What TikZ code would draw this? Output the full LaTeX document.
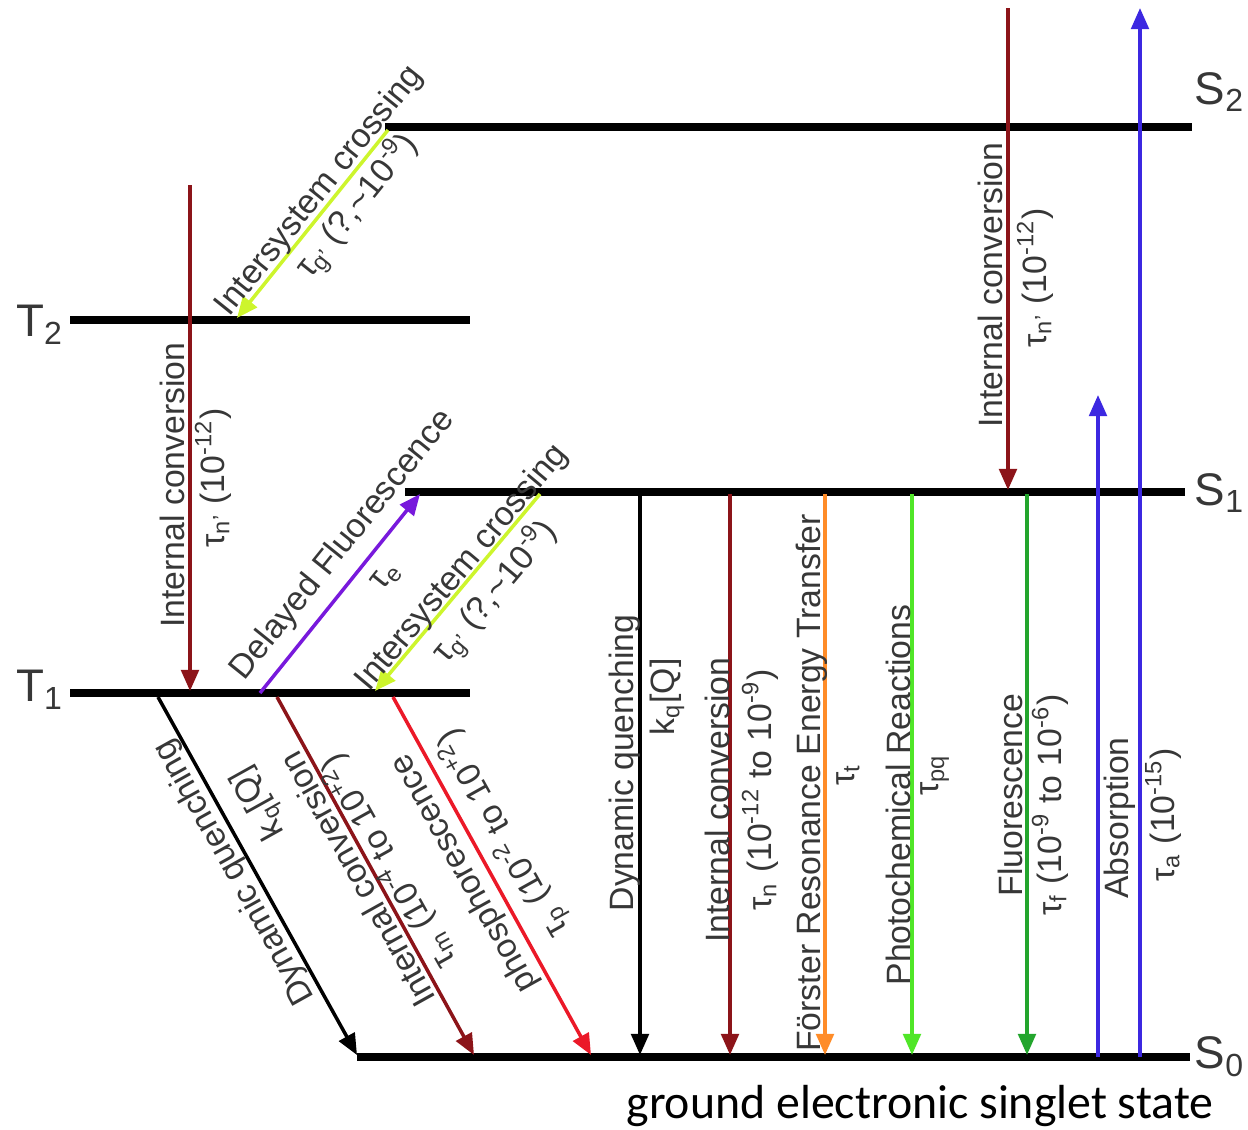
\documentclass[tikz,border=0pt]{standalone}
\usepackage{fontspec}
\setmainfont{Liberation Sans}
\newfontfamily\captionfont{Carlito}
\usetikzlibrary{arrows.meta}
\definecolor{TextGray}{RGB}{55,55,55}
\definecolor{ICRed}{RGB}{140,20,25}
\definecolor{ISCYellow}{RGB}{205,245,45}
\definecolor{DFViolet}{RGB}{120,25,220}
\definecolor{PhosRed}{RGB}{235,25,40}
\definecolor{FretOrange}{RGB}{255,140,40}
\definecolor{PhotoGreen}{RGB}{80,230,40}
\definecolor{FluoGreen}{RGB}{35,165,45}
\definecolor{AbsBlue}{RGB}{60,40,225}

\begin{document}
\begin{tikzpicture}[
    x=0.01cm, y=-0.01cm,
    level/.style={line width=2pt, black},
    trans/.style={-{Triangle[length=6pt,width=5pt]}, line width=1pt},
    lab/.style={text=TextGray, font=\fontsize{9.6}{11}\selectfont, inner sep=0pt},
    statelab/.style={text=TextGray, font=\fontsize{13}{15}\selectfont, inner sep=0pt}
  ]
    \useasboundingbox (0,0) rectangle (1248,1130);

    % energy levels
    \coordinate (s2w) at (385,127);  \coordinate (s2e) at (1192,127);
    \coordinate (t2w) at (70,320);   \coordinate (t2e) at (470,320);
    \coordinate (s1w) at (405,492);  \coordinate (s1e) at (1185,492);
    \coordinate (t1w) at (70,693);   \coordinate (t1e) at (470,693);
    \coordinate (s0w) at (357,1057); \coordinate (s0e) at (1190,1057);

    \draw[level] (s2w) -- (s2e);
    \draw[level] (t2w) -- (t2e);
    \draw[level] (s1w) -- (s1e);
    \draw[level] (t1w) -- (t1e);
    \draw[level] (s0w) -- (s0e);

    \node[statelab] (s2lab) at (1220,92) {S\textsubscript{2}};
    \node[statelab] (t2lab) at (40,325) {T\textsubscript{2}};
    \node[statelab] (s1lab) at (1220,493) {S\textsubscript{1}};
    \node[statelab] (t1lab) at (40,690) {T\textsubscript{1}};
    \node[statelab] (s0lab) at (1220,1057) {S\textsubscript{0}};

    % end points of the transitions
    \coordinate (iscAtop) at (388,130);  \coordinate (iscAbot) at (237,318);
    \coordinate (icAtop) at (190,185);   \coordinate (icAbot) at (190,691);
    \coordinate (dfbot) at (260,693);    \coordinate (dftop) at (420,494);
    \coordinate (iscBtop) at (540,494);  \coordinate (iscBbot) at (375,691);
    \coordinate (dqAtop) at (158,697);   \coordinate (dqAbot) at (357,1055);
    \coordinate (icBtop) at (277,697);   \coordinate (icBbot) at (474,1055);
    \coordinate (phtop) at (393,697);    \coordinate (phbot) at (591,1055);
    \coordinate (dqBtop) at (640,494);   \coordinate (dqBbot) at (640,1055);
    \coordinate (icCtop) at (730,494);   \coordinate (icCbot) at (730,1055);
    \coordinate (frtop) at (825,494);    \coordinate (frbot) at (825,1055);
    \coordinate (pctop) at (912,494);    \coordinate (pcbot) at (912,1055);
    \coordinate (fltop) at (1027,494);   \coordinate (flbot) at (1027,1055);
    \coordinate (abAbot) at (1098,1057); \coordinate (abAtop) at (1098,395);
    \coordinate (abBbot) at (1140,1057); \coordinate (abBtop) at (1140,8);
    \coordinate (icDtop) at (1008,8);    \coordinate (icDbot) at (1008,490);

    % transitions
    \draw[trans, ISCYellow] (iscAtop) -- (iscAbot);
    \draw[trans, ICRed] (icAtop) -- (icAbot);
    \draw[trans, DFViolet] (dfbot) -- (dftop);
    \draw[trans, ISCYellow] (iscBtop) -- (iscBbot);
    \draw[trans, black] (dqAtop) -- (dqAbot);
    \draw[trans, ICRed] (icBtop) -- (icBbot);
    \draw[trans, PhosRed] (phtop) -- (phbot);
    \draw[trans, black] (dqBtop) -- (dqBbot);
    \draw[trans, ICRed] (icCtop) -- (icCbot);
    \draw[trans, FretOrange] (frtop) -- (frbot);
    \draw[trans, PhotoGreen] (pctop) -- (pcbot);
    \draw[trans, FluoGreen] (fltop) -- (flbot);
    \draw[trans, AbsBlue] (abAbot) -- (abAtop);
    \draw[trans, AbsBlue] (abBbot) -- (abBtop);
    \draw[trans, ICRed] (icDtop) -- (icDbot);

    % labels
    \node[lab, rotate=51.2] (iscAlab) at (320,191) {Intersystem crossing};
    \node[lab, rotate=51.2] (iscAtau) at (357,206) {τ\textsubscript{g'} (?,\textasciitilde10\textsuperscript{-9})};
    \node[lab, rotate=90] (icAlab) at (172,485) {Internal conversion};
    \node[lab, rotate=90] (icAtau) at (213,478) {τ\textsubscript{n'} (10\textsuperscript{-12})};
    \node[lab, rotate=51.2] (dflab) at (343,545) {Delayed Fluorescence};
    \node[lab, rotate=51.2] (dftau) at (387,577) {τ\textsubscript{e}};
    \node[lab, rotate=50] (iscBlab) at (462,568) {Intersystem crossing};
    \node[lab, rotate=50] (iscBtau) at (495,592) {τ\textsubscript{g'} (?,\textasciitilde10\textsuperscript{-9})};

    \node[lab, rotate=119.1] (dqAlab) at (235,872) {Dynamic quenching};
    \node[lab, rotate=119.1] (dqArate) at (260,802) {k\textsubscript{q}[Q]};
    \node[lab, rotate=119.1] (icBlab) at (357,880) {Internal conversion};
    \node[lab, rotate=119.1] (icBtau) at (388,862) {τ\textsubscript{m} (10\textsuperscript{-4} to 10\textsuperscript{+2})};
    \node[lab, rotate=119.1] (phlab) at (465,873) {phosphorescence};
    \node[lab, rotate=119.1] (phtau) at (503,833) {τ\textsubscript{p} (10\textsuperscript{-2} to 10\textsuperscript{+2})};

    \node[lab, rotate=90] (dqBlab) at (625,763) {Dynamic quenching};
    \node[lab, rotate=90] (dqBrate) at (667,697) {k\textsubscript{q}[Q]};
    \node[lab, rotate=90] (icClab) at (717,800) {Internal conversion};
    \node[lab, rotate=90] (icCtau) at (760,790) {τ\textsubscript{n} (10\textsuperscript{-12} to 10\textsuperscript{-9})};
    \node[lab, rotate=90] (frlab) at (812,783) {Förster Resonance Energy Transfer};
    \node[lab, rotate=90] (frtau) at (848,775) {τ\textsubscript{t}};
    \node[lab, rotate=90] (pclab) at (898,795) {Photochemical Reactions};
    \node[lab, rotate=90] (pctau) at (935,775) {τ\textsubscript{pq}};
    \node[lab, rotate=90] (fllab) at (1010,795) {Fluorescence};
    \node[lab, rotate=90] (fltau) at (1050,805) {τ\textsubscript{f} (10\textsuperscript{-9} to 10\textsuperscript{-6})};
    \node[lab, rotate=90] (ablab) at (1120,818) {Absorption};
    \node[lab, rotate=90] (abtau) at (1163,815) {τ\textsubscript{a} (10\textsuperscript{-15})};
    \node[lab, rotate=90] (icDlab) at (990,285) {Internal conversion};
    \node[lab, rotate=90] (icDtau) at (1035,278) {τ\textsubscript{n'} (10\textsuperscript{-12})};

    \node[font=\captionfont\fontsize{13.6}{16}\selectfont, inner sep=0pt] (gslab) at (920,1106) {ground electronic singlet state};
  \end{tikzpicture}
\end{document}
